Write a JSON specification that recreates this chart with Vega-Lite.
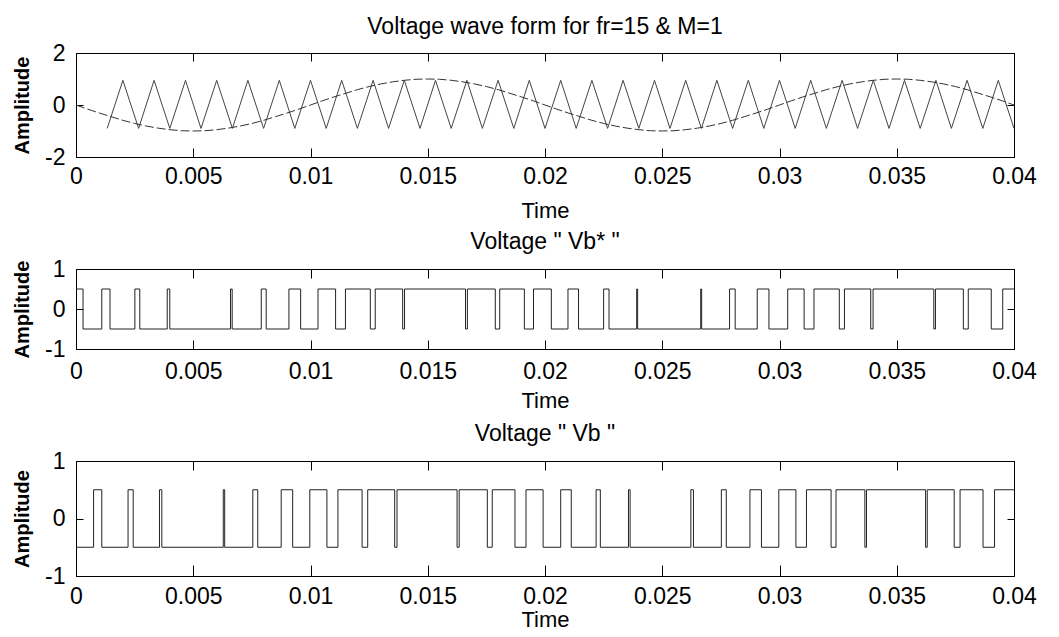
{
"$schema": "https://vega.github.io/schema/vega-lite/v6.json",
"autosize": {"type": "pad"},
"padding": {"left": 12, "top": 15, "right": 0, "bottom": 0},
"background": "white",
"spacing": 112,
"bounds": "flush",
"config": {
  "font": "Liberation Sans",
  "view": {"stroke": "black", "strokeWidth": 1},
  "axis": {"grid": false, "domain": false, "tickColor": "black", "tickSize": -8, "labelFontSize": 23, "labelColor": "black", "labelFont": "Liberation Sans", "titleFont": "Liberation Sans", "titleColor": "black", "labelFlush": false, "labelOverlap": false},
  "title": {"font": "Liberation Sans", "fontSize": 23, "fontWeight": "normal", "color": "black"}
},
"datasets": {
  "carrier": [
    {"t":0.00133,"v":-0.9},{"t":0.002,"v":0.95},{"t":0.00267,"v":-0.9},{"t":0.00333,"v":0.95},{"t":0.004,"v":-0.9},{"t":0.00467,"v":0.95},{"t":0.00533,"v":-0.9},{"t":0.006,"v":0.95},{"t":0.00667,"v":-0.9},{"t":0.00733,"v":0.95},{"t":0.008,"v":-0.9},{"t":0.00867,"v":0.95},{"t":0.00933,"v":-0.9},{"t":0.01,"v":0.95},{"t":0.01067,"v":-0.9},{"t":0.01133,"v":0.95},{"t":0.012,"v":-0.9},{"t":0.01267,"v":0.95},{"t":0.01333,"v":-0.9},{"t":0.014,"v":0.95},{"t":0.01467,"v":-0.9},{"t":0.01533,"v":0.95},{"t":0.016,"v":-0.9},{"t":0.01667,"v":0.95},{"t":0.01733,"v":-0.9},{"t":0.018,"v":0.95},{"t":0.01867,"v":-0.9},{"t":0.01933,"v":0.95},{"t":0.02,"v":-0.9},{"t":0.02067,"v":0.95},{"t":0.02133,"v":-0.9},{"t":0.022,"v":0.95},{"t":0.02267,"v":-0.9},{"t":0.02333,"v":0.95},{"t":0.024,"v":-0.9},{"t":0.02467,"v":0.95},{"t":0.02533,"v":-0.9},{"t":0.026,"v":0.95},{"t":0.02667,"v":-0.9},{"t":0.02733,"v":0.95},{"t":0.028,"v":-0.9},{"t":0.02867,"v":0.95},{"t":0.02933,"v":-0.9},{"t":0.03,"v":0.95},{"t":0.03067,"v":-0.9},{"t":0.03133,"v":0.95},{"t":0.032,"v":-0.9},{"t":0.03267,"v":0.95},{"t":0.03333,"v":-0.9},{"t":0.034,"v":0.95},{"t":0.03467,"v":-0.9},{"t":0.03533,"v":0.95},{"t":0.036,"v":-0.9},{"t":0.03667,"v":0.95},{"t":0.03733,"v":-0.9},{"t":0.038,"v":0.95},{"t":0.03867,"v":-0.9},{"t":0.03933,"v":0.95},{"t":0.04,"v":-0.9}
  ],
  "ref": [
    {"t":0,"v":0},{"t":0.0005,"v":-0.16},{"t":0.001,"v":-0.31},{"t":0.0015,"v":-0.45},{"t":0.002,"v":-0.59},{"t":0.0025,"v":-0.71},{"t":0.003,"v":-0.81},{"t":0.0035,"v":-0.89},{"t":0.004,"v":-0.95},{"t":0.0045,"v":-0.99},{"t":0.005,"v":-1},{"t":0.0055,"v":-0.99},{"t":0.006,"v":-0.95},{"t":0.0065,"v":-0.89},{"t":0.007,"v":-0.81},{"t":0.0075,"v":-0.71},{"t":0.008,"v":-0.59},{"t":0.0085,"v":-0.45},{"t":0.009,"v":-0.31},{"t":0.0095,"v":-0.16},
    {"t":0.01,"v":0},{"t":0.0105,"v":0.16},{"t":0.011,"v":0.31},{"t":0.0115,"v":0.45},{"t":0.012,"v":0.59},{"t":0.0125,"v":0.71},{"t":0.013,"v":0.81},{"t":0.0135,"v":0.89},{"t":0.014,"v":0.95},{"t":0.0145,"v":0.99},{"t":0.015,"v":1},{"t":0.0155,"v":0.99},{"t":0.016,"v":0.95},{"t":0.0165,"v":0.89},{"t":0.017,"v":0.81},{"t":0.0175,"v":0.71},{"t":0.018,"v":0.59},{"t":0.0185,"v":0.45},{"t":0.019,"v":0.31},{"t":0.0195,"v":0.16},
    {"t":0.02,"v":0},{"t":0.0205,"v":-0.16},{"t":0.021,"v":-0.31},{"t":0.0215,"v":-0.45},{"t":0.022,"v":-0.59},{"t":0.0225,"v":-0.71},{"t":0.023,"v":-0.81},{"t":0.0235,"v":-0.89},{"t":0.024,"v":-0.95},{"t":0.0245,"v":-0.99},{"t":0.025,"v":-1},{"t":0.0255,"v":-0.99},{"t":0.026,"v":-0.95},{"t":0.0265,"v":-0.89},{"t":0.027,"v":-0.81},{"t":0.0275,"v":-0.71},{"t":0.028,"v":-0.59},{"t":0.0285,"v":-0.45},{"t":0.029,"v":-0.31},{"t":0.0295,"v":-0.16},
    {"t":0.03,"v":0},{"t":0.0305,"v":0.16},{"t":0.031,"v":0.31},{"t":0.0315,"v":0.45},{"t":0.032,"v":0.59},{"t":0.0325,"v":0.71},{"t":0.033,"v":0.81},{"t":0.0335,"v":0.89},{"t":0.034,"v":0.95},{"t":0.0345,"v":0.99},{"t":0.035,"v":1},{"t":0.0355,"v":0.99},{"t":0.036,"v":0.95},{"t":0.0365,"v":0.89},{"t":0.037,"v":0.81},{"t":0.0375,"v":0.71},{"t":0.038,"v":0.59},{"t":0.0385,"v":0.45},{"t":0.039,"v":0.31},{"t":0.0395,"v":0.16},{"t":0.04,"v":0}
  ],
  "vbs": [
    {"t":0,"v":0.5},{"t":0.0003,"v":-0.5},{"t":0.0011,"v":0.5},{"t":0.00145,"v":-0.5},{"t":0.00251,"v":0.5},{"t":0.00272,"v":-0.5},{"t":0.00389,"v":0.5},{"t":0.004,"v":-0.5},{"t":0.00659,"v":0.5},{"t":0.00666,"v":-0.5},{"t":0.0079,"v":0.5},{"t":0.00811,"v":-0.5},{"t":0.00908,"v":0.5},{"t":0.00958,"v":-0.5},{"t":0.01032,"v":0.5},{"t":0.01107,"v":-0.5},{"t":0.01149,"v":0.5},{"t":0.01255,"v":-0.5},{"t":0.01276,"v":0.5},{"t":0.01393,"v":-0.5},{"t":0.01401,"v":0.5},{"t":0.01661,"v":-0.5},{"t":0.01669,"v":0.5},{"t":0.01788,"v":-0.5},{"t":0.01807,"v":0.5},{"t":0.01912,"v":-0.5},{"t":0.01951,"v":0.5},{"t":0.02027,"v":-0.5},{"t":0.02098,"v":0.5},{"t":0.02143,"v":-0.5},{"t":0.0225,"v":0.5},{"t":0.02273,"v":-0.5},{"t":0.02391,"v":0.5},{"t":0.02395,"v":-0.5},{"t":0.02664,"v":0.5},{"t":0.02668,"v":-0.5},{"t":0.02787,"v":0.5},{"t":0.02811,"v":-0.5},{"t":0.02905,"v":0.5},{"t":0.02955,"v":-0.5},{"t":0.03035,"v":0.5},{"t":0.03105,"v":-0.5},{"t":0.03147,"v":0.5},{"t":0.03255,"v":-0.5},{"t":0.03277,"v":0.5},{"t":0.03389,"v":-0.5},{"t":0.03399,"v":0.5},{"t":0.03658,"v":-0.5},{"t":0.03665,"v":0.5},{"t":0.03784,"v":-0.5},{"t":0.03805,"v":0.5},{"t":0.03903,"v":-0.5},{"t":0.03952,"v":0.5},{"t":0.04,"v":0.5}
  ],
  "vb": [
    {"t":0,"v":-0.5},{"t":0.00075,"v":0.5},{"t":0.0011,"v":-0.5},{"t":0.00222,"v":0.5},{"t":0.00244,"v":-0.5},{"t":0.00356,"v":0.5},{"t":0.00366,"v":-0.5},{"t":0.00628,"v":0.5},{"t":0.00634,"v":-0.5},{"t":0.00754,"v":0.5},{"t":0.00775,"v":-0.5},{"t":0.00875,"v":0.5},{"t":0.00924,"v":-0.5},{"t":0.00997,"v":0.5},{"t":0.0107,"v":-0.5},{"t":0.01117,"v":0.5},{"t":0.0122,"v":-0.5},{"t":0.01244,"v":0.5},{"t":0.01359,"v":-0.5},{"t":0.01369,"v":0.5},{"t":0.01625,"v":-0.5},{"t":0.01634,"v":0.5},{"t":0.01754,"v":-0.5},{"t":0.01775,"v":0.5},{"t":0.01872,"v":-0.5},{"t":0.01919,"v":0.5},{"t":0.01992,"v":-0.5},{"t":0.02067,"v":0.5},{"t":0.02112,"v":-0.5},{"t":0.02218,"v":0.5},{"t":0.02236,"v":-0.5},{"t":0.02356,"v":0.5},{"t":0.02363,"v":-0.5},{"t":0.02622,"v":0.5},{"t":0.02633,"v":-0.5},{"t":0.02752,"v":0.5},{"t":0.02773,"v":-0.5},{"t":0.02874,"v":0.5},{"t":0.02923,"v":-0.5},{"t":0.02997,"v":0.5},{"t":0.0307,"v":-0.5},{"t":0.03115,"v":0.5},{"t":0.0322,"v":-0.5},{"t":0.03241,"v":0.5},{"t":0.03364,"v":-0.5},{"t":0.03371,"v":0.5},{"t":0.03623,"v":-0.5},{"t":0.0363,"v":0.5},{"t":0.03745,"v":-0.5},{"t":0.0377,"v":0.5},{"t":0.03868,"v":-0.5},{"t":0.03917,"v":0.5},{"t":0.04,"v":0.5}
  ]
},
"vconcat": [
  {
    "width": 938, "height": 104,
    "title": {"text": "Voltage wave form for fr=15 & M=1", "offset": 3},
    "layer": [
      {"data": {"name": "carrier"}, "mark": {"type": "line", "color": "#444", "strokeWidth": 1},
       "encoding": {
         "x": {"field": "t", "type": "quantitative", "scale": {"domain": [0, 0.04], "nice": false, "zero": false},
               "axis": {"orient": "bottom", "values": [0,0.005,0.01,0.015,0.02,0.025,0.03,0.035,0.04], "labelExpr": "'' + datum.value", "title": "Time", "titleFontSize": 22, "titleFontWeight": "normal", "labelPadding": 17, "titlePadding": 12, "tickSize": -9}},
         "y": {"field": "v", "type": "quantitative", "scale": {"domain": [-2, 2], "nice": false},
               "axis": {"orient": "left", "values": [-2,0,2], "labelExpr": "'' + datum.value", "title": "Amplitude", "titleFontSize": 20, "titleFontWeight": "bold", "labelPadding": 18, "titlePadding": 12, "tickSize": -7}}
       }},
      {"data": {"name": "ref"}, "mark": {"type": "line", "color": "#333", "strokeWidth": 1, "strokeDash": [9, 3]},
       "encoding": {
         "x": {"field": "t", "type": "quantitative", "axis": {"orient": "top", "values": [0,0.005,0.01,0.015,0.02,0.025,0.03,0.035,0.04], "labels": false, "title": null, "tickSize": -8}},
         "y": {"field": "v", "type": "quantitative", "axis": {"orient": "right", "values": [-2,0,2], "labels": false, "title": null, "tickSize": -7}}
       }}
    ],
    "resolve": {"axis": {"x": "independent", "y": "independent"}}
  },
  {
    "width": 938, "height": 80,
    "title": {"text": "Voltage \" Vb* \"", "offset": 4},
    "layer": [
      {"data": {"name": "vbs"}, "mark": {"type": "line", "color": "#222", "strokeWidth": 1, "interpolate": "step-after"},
       "encoding": {
         "x": {"field": "t", "type": "quantitative", "scale": {"domain": [0, 0.04], "nice": false, "zero": false},
               "axis": {"orient": "bottom", "values": [0,0.005,0.01,0.015,0.02,0.025,0.03,0.035,0.04], "labelExpr": "'' + datum.value", "title": "Time", "titleFontSize": 22, "titleFontWeight": "normal", "labelPadding": 20, "titlePadding": 7, "tickSize": -9}},
         "y": {"field": "v", "type": "quantitative", "scale": {"domain": [-1, 1], "nice": false},
               "axis": {"orient": "left", "values": [-1,0,1], "labelExpr": "'' + datum.value", "title": "Amplitude", "titleFontSize": 20, "titleFontWeight": "bold", "labelPadding": 18, "titlePadding": 12, "tickSize": -7}}
       }},
      {"data": {"name": "vbs"}, "mark": {"type": "line", "opacity": 0, "interpolate": "step-after"},
       "encoding": {
         "x": {"field": "t", "type": "quantitative", "axis": {"orient": "top", "values": [0,0.005,0.01,0.015,0.02,0.025,0.03,0.035,0.04], "labels": false, "title": null, "tickSize": -9}},
         "y": {"field": "v", "type": "quantitative", "axis": {"orient": "right", "values": [-1,0,1], "labels": false, "title": null, "tickSize": -7}}
       }}
    ],
    "resolve": {"axis": {"x": "independent", "y": "independent"}}
  },
  {
    "width": 938, "height": 115,
    "title": {"text": "Voltage \" Vb \"", "offset": 4},
    "layer": [
      {"data": {"name": "vb"}, "mark": {"type": "line", "color": "#222", "strokeWidth": 1, "interpolate": "step-after"},
       "encoding": {
         "x": {"field": "t", "type": "quantitative", "scale": {"domain": [0, 0.04], "nice": false, "zero": false},
               "axis": {"orient": "bottom", "values": [0,0.005,0.01,0.015,0.02,0.025,0.03,0.035,0.04], "labelExpr": "'' + datum.value", "title": "Time", "titleFontSize": 22, "titleFontWeight": "normal", "labelPadding": 20, "titlePadding": 1, "tickSize": -11}},
         "y": {"field": "v", "type": "quantitative", "scale": {"domain": [-1, 1], "nice": false},
               "axis": {"orient": "left", "values": [-1,0,1], "labelExpr": "'' + datum.value", "title": "Amplitude", "titleFontSize": 20, "titleFontWeight": "bold", "labelPadding": 18, "titlePadding": 12, "tickSize": -7}}
       }},
      {"data": {"name": "vb"}, "mark": {"type": "line", "opacity": 0, "interpolate": "step-after"},
       "encoding": {
         "x": {"field": "t", "type": "quantitative", "axis": {"orient": "top", "values": [0,0.005,0.01,0.015,0.02,0.025,0.03,0.035,0.04], "labels": false, "title": null, "tickSize": -9}},
         "y": {"field": "v", "type": "quantitative", "axis": {"orient": "right", "values": [-1,0,1], "labels": false, "title": null, "tickSize": -7}}
       }}
    ],
    "resolve": {"axis": {"x": "independent", "y": "independent"}}
  }
]
}
